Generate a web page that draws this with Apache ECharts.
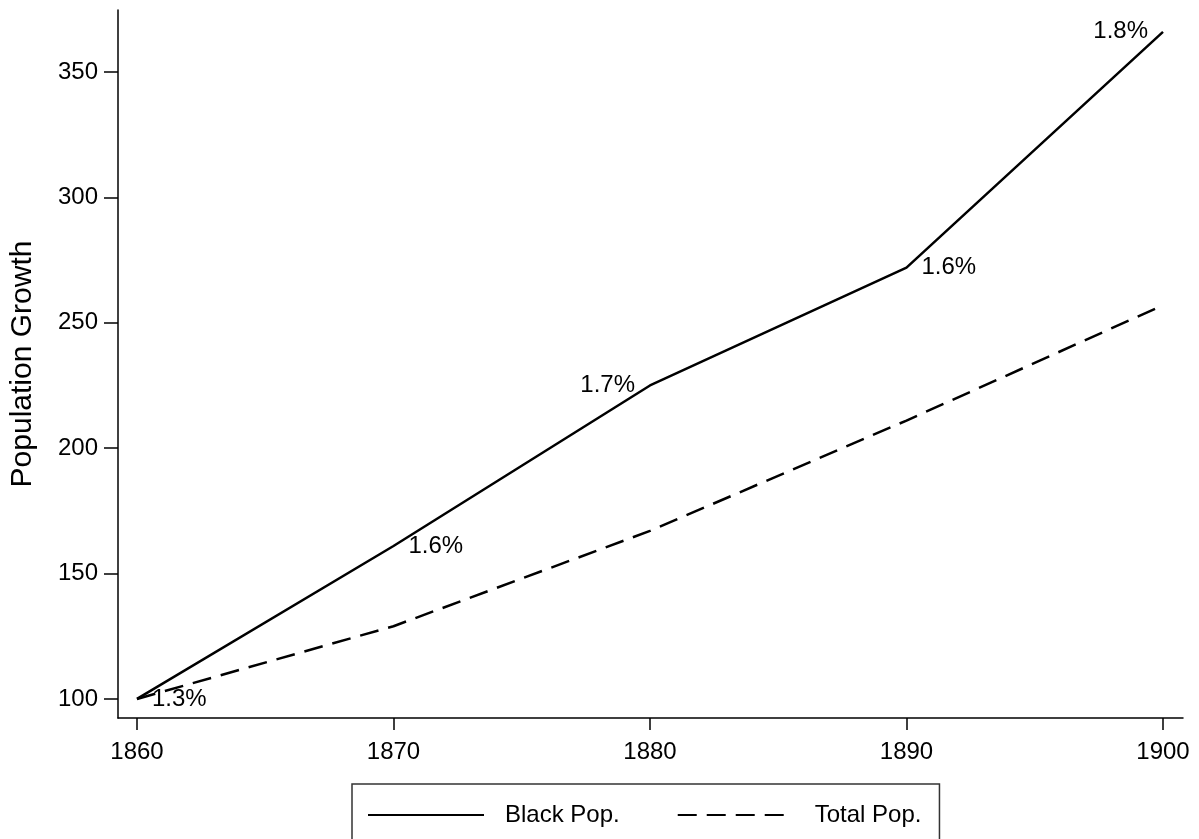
<!DOCTYPE html>
<html>
<head>
<meta charset="utf-8">
<script src="https://cdn.jsdelivr.net/npm/echarts@6/dist/echarts.min.js"></script>
<style>html,body{margin:0;padding:0;background:#fff;}#c{width:1199px;height:839px;}</style>
</head>
<body>
<div id="c"></div>
<script>
const years = [1860, 1870, 1880, 1890, 1900];
const blackPop = [100, 161, 225, 272, 366];
const totalPop = [100, 129, 167, 211, 257];
const rateLabels = ['1.3%', '1.6%', '1.7%', '1.6%', '1.8%'];
const xTicks = [1860, 1870, 1880, 1890, 1900];
const yTicks = [100, 150, 200, 250, 300, 350];

const sides = ['right', 'right', 'left', 'right', 'left'];
const font = 'Liberation Sans, Arial, sans-serif';

const chart = echarts.init(document.getElementById('c'));
chart.setOption({
  backgroundColor: '#fff',
  animation: false,
  grid: { left: 114, right: 16, top: 10, bottom: 121, containLabel: false },
  xAxis: {
    type: 'value', min: 1859.26, max: 1900.78,
    axisLine: { show: true, lineStyle: { color: '#000', width: 1.5 } },
    axisTick: { show: true, length: 12, lineStyle: { color: '#000', width: 1.5 }, customValues: xTicks },
    axisLabel: { color: '#000', fontSize: 24, fontFamily: font, margin: 22, customValues: xTicks, formatter: v => String(v) },
    splitLine: { show: false }
  },
  yAxis: {
    type: 'value', min: 92.4, max: 374.7,
    name: 'Population Growth', nameLocation: 'middle', nameGap: 80,
    nameTextStyle: { color: '#000', fontSize: 30, fontFamily: font },
    axisLine: { show: true, lineStyle: { color: '#000', width: 1.5 } },
    axisTick: { show: true, length: 14, lineStyle: { color: '#000', width: 1.5 }, customValues: yTicks },
    axisLabel: { color: '#000', fontSize: 24, fontFamily: font, margin: 20, customValues: yTicks },
    splitLine: { show: false }
  },
  legend: {
    left: 352, top: 784,
    padding: [19, 18, 40, 15],
    borderColor: '#333', borderWidth: 1.5,
    itemWidth: 116, itemHeight: 24, itemGap: 57,
    itemStyle: { opacity: 0 },
    textStyle: { color: '#000', fontSize: 24, fontFamily: font, padding: [0, 0, 0, 16] },
    data: ['Black Pop.', 'Total Pop.']
  },
  series: [
    {
      name: 'Black Pop.', type: 'line', symbol: 'circle', symbolSize: 0, showSymbol: true,
      lineStyle: { color: '#000', width: 2.5 }, itemStyle: { color: '#000' },
      data: years.map((y, i) => ({
        value: [y, blackPop[i]],
        label: { show: true, position: sides[i], distance: 15, formatter: rateLabels[i],
                 color: '#000', fontSize: 24, fontFamily: font }
      }))
    },
    {
      name: 'Total Pop.', type: 'line', symbol: 'circle', symbolSize: 0, showSymbol: true,
      lineStyle: { color: '#000', width: 2.5, type: [19, 10] }, itemStyle: { color: '#000' },
      data: years.map((y, i) => [y, totalPop[i]])
    }
  ]
});
</script>
</body>
</html>
